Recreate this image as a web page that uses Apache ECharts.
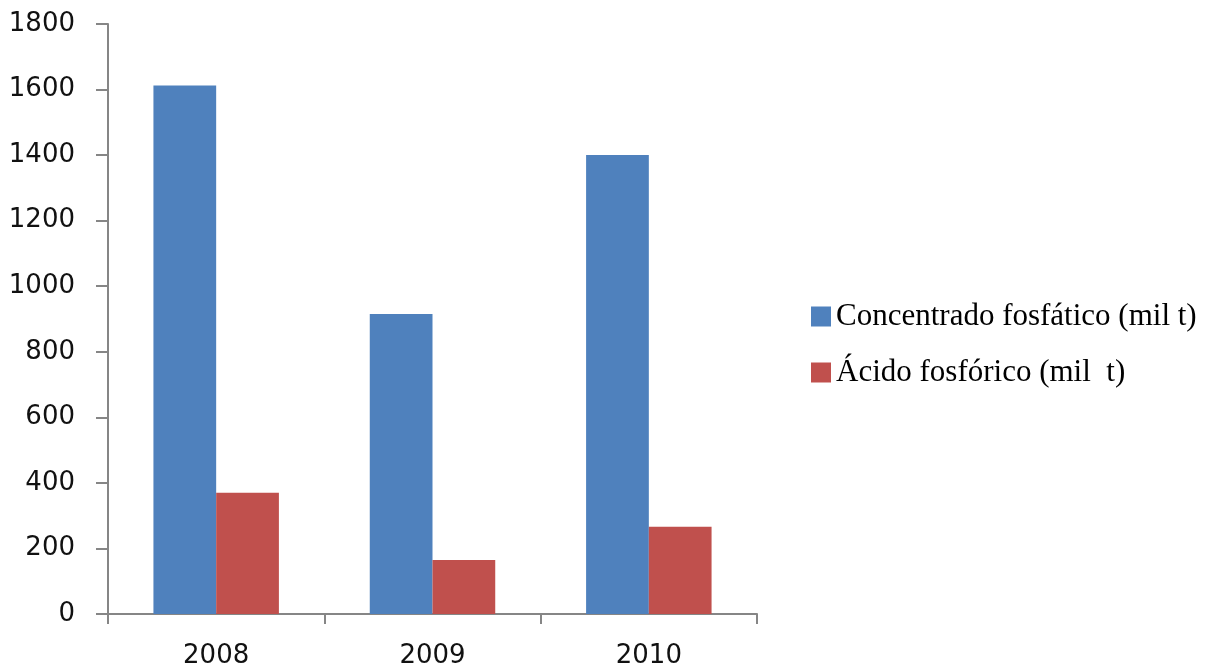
<!DOCTYPE html>
<html>
<head>
<meta charset="utf-8">
<script src="https://cdn.jsdelivr.net/npm/echarts@6/dist/echarts.min.js"></script>
<style>html,body{margin:0;padding:0;background:#fff}#c{width:1206px;height:669px}</style>
</head>
<body>
<div id="c"></div>
<script>
const categories = ['2008', '2009', '2010'];
const seriesNames = ['Concentrado fosfático (mil t)', 'Ácido fosfórico (mil  t)'];
const concentrado = [1612, 915, 1400];
const acido = [370, 165, 266];
const yTicks = [0, 200, 400, 600, 800, 1000, 1200, 1400, 1600, 1800];

const chart = echarts.init(document.getElementById('c'));
chart.setOption({
  animation: false,
  backgroundColor: '#ffffff',
  grid: { left: 108, right: 449, top: 24, bottom: 54, containLabel: false },
  legend: {
    orient: 'vertical',
    left: 806,
    top: 296,
    itemWidth: 20,
    itemHeight: 20,
    itemGap: 25,
    icon: 'rect',
    textStyle: { fontFamily: 'Liberation Serif', fontSize: 31, color: '#000', padding: [0, 0, 0, 0] },
    data: seriesNames
  },
  xAxis: {
    type: 'category',
    data: categories,
    axisLine: { lineStyle: { color: '#868686', width: 2 } },
    axisTick: { show: true, length: 10, lineStyle: { color: '#868686', width: 2 } },
    axisLabel: { fontFamily: 'DejaVu Sans', fontSize: 26, color: '#111', margin: 29 }
  },
  yAxis: {
    type: 'value',
    min: yTicks[0],
    max: yTicks[yTicks.length - 1],
    interval: 200,
    splitLine: { show: false },
    axisLine: { show: true, lineStyle: { color: '#868686', width: 2 } },
    axisTick: { show: true, length: 12, inside: false, lineStyle: { color: '#868686', width: 2 } },
    axisLabel: { fontFamily: 'DejaVu Sans', fontSize: 26, color: '#111', margin: 33, formatter: function (v) { return String(v); } }
  },
  series: [
    { name: seriesNames[0], type: 'bar', data: concentrado, barGap: '0%', barCategoryGap: '42%', itemStyle: { color: '#4F81BD' } },
    { name: seriesNames[1], type: 'bar', data: acido, barGap: '0%', barCategoryGap: '42%', itemStyle: { color: '#C0504D' } }
  ]
});
</script>
</body>
</html>
